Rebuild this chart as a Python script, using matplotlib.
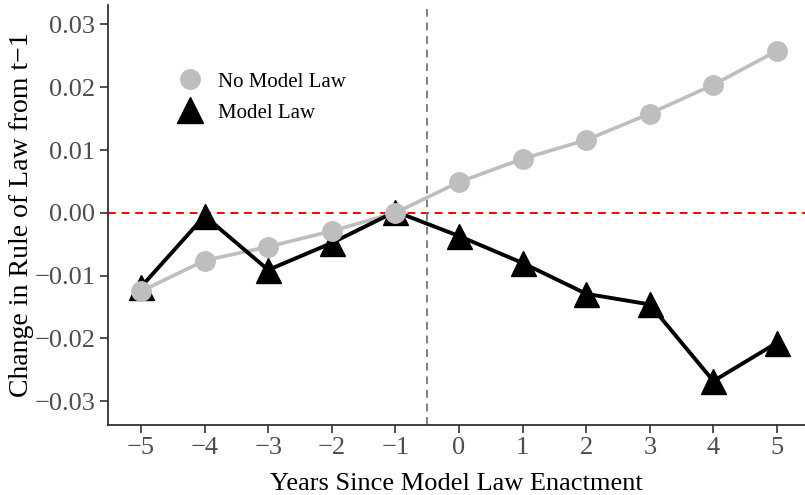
import numpy as np
import matplotlib
matplotlib.use("Agg")
import matplotlib.pyplot as plt
from matplotlib.lines import Line2D

# event-study estimates
years = [-5, -4, -3, -2, -1, 0, 1, 2, 3, 4, 5]
no_model_law = [-0.0125, -0.0076, -0.0054, -0.0029, 0.0, 0.0049, 0.0086, 0.0116, 0.0158, 0.0204, 0.0258]
model_law = [-0.0118, -0.0005, -0.0091, -0.0048, 0.0002, -0.0037, -0.0080, -0.0129, -0.0146, -0.0268, -0.0207]
y_ticks = [-0.03, -0.02, -0.01, 0.00, 0.01, 0.02, 0.03]

grey = '#bebebe'
plt.rcParams['font.family'] = ['Liberation Serif', 'DejaVu Serif']

fig = plt.figure(figsize=(8.05, 4.95), dpi=100)
ax = fig.add_axes([108/805, 70/495, 697/805, 420/495])

ax.axhline(0, color='#ff0000', ls=(0, (4, 3)), lw=1.4, zorder=1)
ax.axvline(-0.5, color='#808080', ls=(0, (4, 3)), lw=1.4, zorder=1)

# lines first (grey under black), then points (black under grey)
ax.plot(years, no_model_law, color=grey, lw=2.6, zorder=2)
ax.plot(years, model_law, color='black', lw=2.8, zorder=3)
ax.plot(years, model_law, ls='none', marker='^', ms=18, color='black', zorder=4)
ax.plot(years, no_model_law, ls='none', marker='o', ms=14, color=grey, mec=grey, zorder=5)

ax.set_xlim(-5.52, 5.44)
ax.set_ylim(-0.0338, 0.0331)
ax.set_xticks(years)
ax.set_xticklabels([str(y).replace('-', '\u2212') for y in years])
ax.set_yticks(y_ticks)
ax.set_yticklabels([f'{t:.2f}'.replace('-', '\u2212') for t in y_ticks])

for s in ['top', 'right']:
    ax.spines[s].set_visible(False)
for s in ['left', 'bottom']:
    ax.spines[s].set_color('#333333')
    ax.spines[s].set_linewidth(1.3)
ax.tick_params(colors='#333333', labelcolor='#4d4d4d', labelsize=19, length=6, width=1.2, pad=3)

ax.set_xlabel('Years Since Model Law Enactment', fontsize=19, labelpad=9.5)
ax.set_ylabel('Change in Rule of Law from t\u22121', fontsize=20, labelpad=0)

handles = [
    Line2D([], [], ls='none', marker='o', ms=14, color=grey, mec=grey, label='No Model Law'),
    Line2D([], [], ls='none', marker='^', ms=19, color='black', label='Model Law'),
]
ax.legend(handles=handles, loc='upper left', bbox_to_anchor=(0.073, 0.885), frameon=False,
          fontsize=15, handlelength=1.2, labelspacing=0.55, handletextpad=0.75)

fig.savefig('out.png', dpi=100)
